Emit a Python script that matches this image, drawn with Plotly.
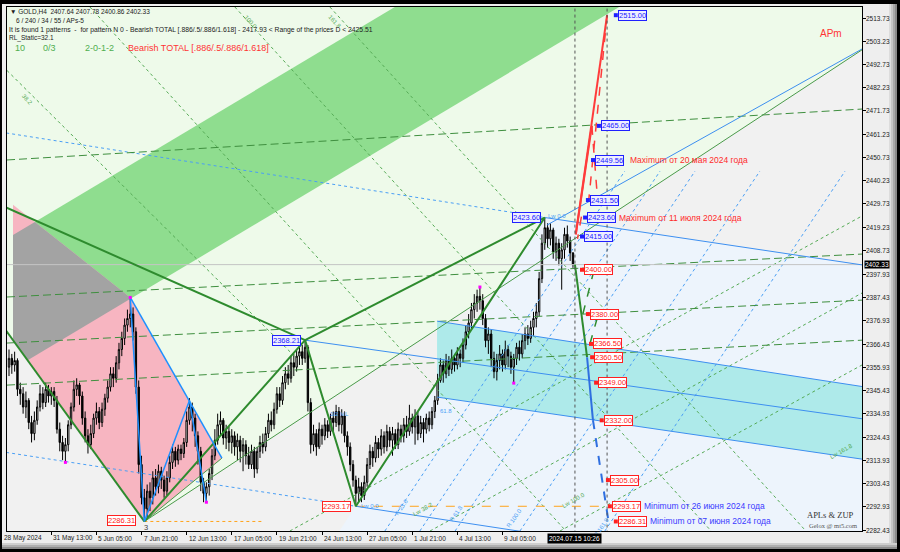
import plotly.graph_objects as go

# ---------------- candle data (H4 bars, index 0..200) ----------------
open0 = 2356.0
close = [
2360, 2357, 2359, 2346, 2344, 2338, 2341, 2331, 2326, 2332,
2338, 2344, 2340, 2346, 2343, 2345, 2341, 2328, 2322, 2318,
2321, 2330, 2338, 2346, 2348, 2343, 2333, 2325, 2321, 2326,
2333, 2336, 2331, 2337, 2342, 2347, 2353, 2351, 2358, 2364,
2369, 2375, 2378, 2380, 2372, 2347, 2312, 2297, 2292, 2300,
2297, 2306, 2302, 2309, 2305, 2300, 2306, 2313, 2318, 2314,
2319, 2317, 2322, 2332, 2338, 2333, 2325, 2318, 2304, 2299,
2302, 2308, 2316, 2323, 2330, 2332, 2324, 2327, 2322, 2325,
2320, 2323, 2318, 2321, 2316, 2312, 2318, 2310, 2318, 2322,
2320, 2326, 2332, 2330, 2337, 2344, 2341, 2349, 2353, 2351,
2358, 2356, 2361, 2363, 2360, 2365, 2340, 2321, 2326, 2320,
2328, 2325, 2330, 2327, 2333, 2331, 2336, 2330, 2334, 2325,
2320, 2312, 2305, 2299, 2302, 2298, 2304, 2312, 2318, 2315,
2322, 2319, 2325, 2320, 2327, 2323, 2326, 2321, 2328, 2325,
2330, 2327, 2333, 2329, 2334, 2326, 2331, 2328, 2333, 2330,
2336, 2341, 2350, 2357, 2353, 2359, 2355, 2360, 2357, 2362,
2360, 2366, 2372, 2376, 2382, 2385, 2388, 2386, 2378, 2368,
2371, 2360, 2354, 2359, 2362, 2357, 2364, 2361, 2356, 2360,
2365, 2362, 2368, 2371, 2369, 2374, 2378, 2381, 2396, 2412,
2419, 2414, 2418, 2408, 2412, 2405, 2409, 2416, 2413, 2407.64,
2402.33]
high = [
2364, 2362, 2363, 2360, 2349, 2347, 2345, 2342, 2334, 2336,
2341, 2348, 2347, 2349, 2348, 2347, 2347, 2343, 2331, 2325,
2324, 2332, 2340, 2350, 2351, 2349, 2345, 2336, 2328, 2330,
2335, 2340, 2338, 2340, 2344, 2350, 2356, 2356, 2361, 2367,
2372, 2378, 2382, 2387.5, 2383, 2374, 2350, 2316, 2301, 2303,
2304, 2309, 2310, 2312, 2311, 2307, 2309, 2316, 2321, 2320,
2321, 2321, 2324, 2336, 2342, 2340, 2335, 2327, 2320, 2306,
2304, 2310, 2319, 2328, 2335, 2336, 2333, 2330, 2329, 2328,
2327, 2326, 2325, 2324, 2323, 2320, 2321, 2320, 2320, 2325,
2326, 2329, 2335, 2336, 2340, 2347, 2347, 2352, 2356, 2357,
2361, 2362, 2364, 2366, 2366, 2368.21, 2366, 2342, 2330, 2328,
2331, 2330, 2333, 2332, 2335, 2336, 2339, 2338, 2337, 2336,
2327, 2322, 2314, 2307, 2306, 2304, 2307, 2315, 2321, 2320,
2325, 2324, 2328, 2327, 2330, 2329, 2329, 2328, 2331, 2330,
2333, 2334, 2339, 2335, 2337, 2336, 2334, 2333, 2335, 2336,
2338, 2343, 2353, 2360, 2359, 2362, 2361, 2364, 2362, 2365,
2364, 2369, 2375, 2380, 2385, 2389, 2391, 2392.2, 2389, 2380,
2374, 2373, 2363, 2362, 2366, 2364, 2368, 2366, 2363, 2362,
2367, 2368, 2371, 2374, 2375, 2377, 2381, 2385, 2399, 2416,
2423.6, 2421, 2421, 2419, 2415, 2414, 2412, 2419, 2420, 2415,
2407.78]
low = [
2352, 2353, 2354, 2343, 2339, 2335, 2333, 2328, 2322, 2323,
2330, 2336, 2337, 2338, 2340, 2339, 2338, 2326, 2318, 2314,
2313, 2318, 2328, 2336, 2343, 2339, 2330, 2322, 2317, 2319,
2324, 2330, 2328, 2329, 2334, 2340, 2345, 2347, 2349, 2355,
2361, 2366, 2372, 2374, 2368, 2344, 2308, 2294, 2286.31, 2288,
2291, 2294, 2298, 2299, 2301, 2297, 2298, 2304, 2310, 2311,
2312, 2314, 2315, 2320, 2330, 2327, 2320, 2312, 2300, 2295,
2295, 2298, 2305, 2314, 2321, 2325, 2321, 2319, 2318, 2317,
2316, 2314, 2313, 2309, 2312, 2310, 2310, 2306, 2308, 2315,
2317, 2318, 2324, 2327, 2328, 2335, 2338, 2339, 2346, 2348,
2349, 2352, 2354, 2357, 2357, 2358, 2336, 2317, 2318, 2316,
2319, 2321, 2323, 2324, 2325, 2327, 2329, 2327, 2326, 2322,
2316, 2309, 2302, 2293.17, 2295, 2295, 2296, 2302, 2310, 2311,
2313, 2315, 2316, 2317, 2318, 2320, 2316, 2319, 2319, 2322,
2322, 2324, 2325, 2326, 2321, 2323, 2324, 2322, 2326, 2327,
2328, 2333, 2339, 2349, 2349, 2351, 2352, 2353, 2354, 2355,
2356, 2358, 2364, 2369, 2373, 2378, 2381, 2382, 2375, 2365,
2362, 2356, 2351, 2350, 2355, 2354, 2355, 2356, 2353, 2348.8,
2357, 2359, 2360, 2364, 2366, 2367, 2370, 2374, 2379, 2394,
2409, 2410, 2411, 2405, 2404, 2402, 2391, 2405, 2410, 2404,
2400.86]

n = min(len(close), len(high), len(low))
close, high, low = close[:n], high[:n], low[:n]
opens = [open0] + close[:-1]
opens[-1] = 2407.64
high = [max(h, o, c) for h, o, c in zip(high, opens, close)]
low = [min(l, o, c) for l, o, c in zip(low, opens, close)]
bars = list(range(n))

# axis labels
xtick_bars = [15, 31, 47, 63, 79, 95, 111, 127, 143, 159, 175]
xtick_labels = ["31 May 13:00", "5 Jun 05:00", "7 Jun 21:00", "12 Jun 13:00", "17 Jun 05:00",
                "19 Jun 21:00", "24 Jun 13:00", "27 Jun 05:00", "1 Jul 21:00", "4 Jul 13:00", "9 Jul 05:00"]
ytick_vals = [2513.73, 2503.23, 2492.73, 2482.23, 2471.73, 2461.23, 2450.73, 2440.23, 2429.73,
              2419.23, 2408.73, 2397.93, 2387.43, 2376.93, 2366.43, 2355.93, 2345.43, 2334.93,
              2324.43, 2313.93, 2303.43, 2292.93, 2282.43]
last_price = 2402.33
now_bar = 200.7
proj_bar = 212.1
XR = [-0.71, 302.5]
YR = [2282.0, 2518.7]

# pattern pivots (bar, price)
piv_bar = [48, 105, 123, 190]
piv_price = [2286.31, 2368.21, 2293.17, 2423.60]

# regions (bar, price vertices)
wedge_b = [-12, 48, 312, 312, -12]
wedge_p = [2391.8, 2286.31, 2507.3, 2540, 2540]
pblue_b = [111, 190, 312, 312]
pblue_p = [2270, 2423.6, 2400.4, 2270]
band_b = [1.42, 146.95, 226.5, 6.52, 1.42]
band_p = [2415.7, 2526.4, 2526.4, 2359.1, 2368.3]
pink_b = [1.42, 43, 75.5, 48, 1.42]
pink_p = [2429.4, 2387.5, 2314.9, 2286.31, 2368.3]
cyan_b = [151.8, 312, 312, 151.8]
cyan_p = [2376.8, 2345.4, 2312.7, 2342.5]

# price level labels on the projection
up_levels = [2515.00, 2465.00, 2449.56, 2431.50, 2423.60, 2415.00]
up_bars = [215.2, 209.2, 207.1, 205.3, 204.3, 203.2]
dn_levels = [2400.00, 2380.00, 2366.50, 2360.50, 2349.00, 2332.00, 2305.00, 2293.17, 2286.31]
dn_bars = [203.2, 205.3, 206.4, 206.8, 208.2, 210.2, 212.4, 213.1, 215.2]

FONT = "Liberation Sans"
fig = go.Figure()


def clip(subject, clipper):
    def area(p):
        return sum(p[i][0] * p[(i + 1) % len(p)][1] - p[(i + 1) % len(p)][0] * p[i][1] for i in range(len(p)))
    s = 1 if area(clipper) > 0 else -1

    def inside(p, a, b):
        return s * ((b[0] - a[0]) * (p[1] - a[1]) - (b[1] - a[1]) * (p[0] - a[0])) >= 0

    def inter(p, q, a, b):
        x1, y1 = p; x2, y2 = q; x3, y3 = a; x4, y4 = b
        d = (x1 - x2) * (y3 - y4) - (y1 - y2) * (x3 - x4)
        t = ((x1 - x3) * (y3 - y4) - (y1 - y3) * (x3 - x4)) / d
        return (x1 + t * (x2 - x1), y1 + t * (y2 - y1))
    out = subject
    for i in range(len(clipper)):
        if not out:
            break
        a, b = clipper[i], clipper[(i + 1) % len(clipper)]
        inp, out = out, []
        for j in range(len(inp)):
            p, q = inp[j], inp[(j + 1) % len(inp)]
            if inside(q, a, b):
                if not inside(p, a, b):
                    out.append(inter(p, q, a, b))
                out.append(q)
            elif inside(p, a, b):
                out.append(inter(p, q, a, b))
    return out


VIEW = [(XR[0], YR[0]), (XR[1], YR[0]), (XR[1], YR[1]), (XR[0], YR[1])]


def region(pts, color):
    pts = clip(pts, VIEW)
    if len(pts) < 3:
        return
    path = "M " + " L ".join(f"{x},{y}" for x, y in pts) + " Z"
    fig.add_shape(type="path", path=path, xref="x", yref="y", fillcolor=color,
                  line=dict(width=0), layer="below")


def line(bx, py, color, width=1, dash="solid"):
    fig.add_trace(go.Scatter(x=bx, y=py, mode="lines", line=dict(color=color, width=width, dash=dash),
                             hoverinfo="skip", showlegend=False))


# ---- background regions (below candles) ----
region(list(zip(wedge_b, wedge_p)), "#eefaea")
region(list(zip(pblue_b, pblue_p)), "#edf4fc")
band = list(zip(band_b, band_p))
pink = list(zip(pink_b, pink_p))
region(band, "#8fdd8f")
region(pink, "#f7b5c1")
region(clip(pink, band), "#a3a3a3")
region(list(zip(cyan_b, cyan_p)), "#aeeaea")

# ---- candles ----
fig.add_trace(go.Candlestick(x=bars, open=opens, high=high, low=low, close=close,
                             increasing=dict(line=dict(color="#000000", width=1), fillcolor="#ffffff"),
                             decreasing=dict(line=dict(color="#000000", width=1), fillcolor="#000000"),
                             whiskerwidth=0, hoverinfo="skip", showlegend=False))

# ---- dotted fan lines ----
GD = "#55aa55"
BD = "#4a9ff5"
for bx, py in [([99.6, 302.5], [2282.0, 2424.3]), ([149.3, 302.5], [2282.0, 2389.5]),
               ([195.4, 302.5], [2282.0, 2357.0]), ([80.1, 249], [2518.7, 2282.0]),
               ([28.7, 197.5], [2518.7, 2282.0]), ([113.8, 282.6], [2518.7, 2282.0]),
               ([-0.7, 102], [2490.0, 2360.0])]:
    line(bx, py, GD, 1, "dot")
for bx, py in [([133.3, 218.4], [2282.0, 2444.6]), ([145.7, 230.9], [2282.0, 2444.6]),
               ([158.2, 243.3], [2282.0, 2444.6]), ([181.2, 266.3], [2282.0, 2444.6]),
               ([211.3, 296.5], [2282.0, 2444.6])]:
    line(bx, py, BD, 1, "dot")
line([-1, 190], [2461.8, 2423.6], BD, 1, "dot")
line([-1, 123], [2317.5, 2293.17], BD, 1, "dot")

# long dashed green levels
for py in [[2449.6, 2472.6], [2387.7, 2407.1], [2366.9, 2386.3], [2347.9, 2368.2]]:
    line([-0.7, 302.5], py, "#3f8f3f", 1, "8px,4px")

# current price line
line([-1, 303], [last_price, last_price], "#c4c4c4", 1)
# orange dotted lows
line([123, 210], [2293.17, 2293.17], "#ffa31a", 1, "dash")
line([48, 90], [2286.31, 2286.31], "#ffa31a", 1, "dot")

# ---- pitchfork / channel lines ----
BL = "#3d8ff0"
line([105, 312], [2368.21, 2331.0], BL, 1)
line([151.8, 312], [2376.8, 2345.4], BL, 1)
line([151.8, 312], [2342.5, 2312.7], BL, 1)
line([123, 312], [2293.17, 2256.5], BL, 1)
line([190, 312], [2423.6, 2400.4], BL, 1)
line([190.8, 312], [2420.2, 2506.5], BL, 1)
line([48, 312], [2286.31, 2507.3], "#4a9a4a", 1)
line([48, 75.5], [2286.31, 2314.9], "#4a9a4a", 1)

# green zigzag
GZ = "#2e8b2e"
line(piv_bar, piv_price, GZ, 2)
line([105, 190], [2368.21, 2423.6], GZ, 2)
line([-1, 105], [2428.1, 2368.21], GZ, 2)
line([48, -2], [2286.31, 2374.2], GZ, 2)

# blue zigzag (older pattern)
line([43, 48, 64, 70], [2387.5, 2286.31, 2341, 2295], "#1e90ff", 1.5)
line([43, 75.5], [2387.5, 2314.9], "#1e90ff", 1.5)

# projections from current bar
line([now_bar, 205.0], [last_price, 2360.5], GZ, 2)
line([205.0, 207.1], [2360.5, 2332.0], "#2f6fe0", 2)
line([207.1, 212.6], [2332.0, 2286.31], "#2f6fe0", 2, "dash")
line([203.5, 207.5], [2380.0, 2400.0], GZ, 1.5, "dash")
line([206.0, 209.0], [2366.5, 2380.0], GZ, 1.5, "dash")
RD = "#ff3b3b"
line([201.0, proj_bar], [2416.0, 2515.0], RD, 2)
line([201.0, 206.7], [2416.0, 2465.0], RD, 2)
line([206.7, 208.6], [2465.0, 2433.8], RD, 1.5, "dash")
line([proj_bar, 205.6], [2515.0, 2431.5], RD, 1.5, "dash")
line([203.0, 201.6], [2424.0, 2414.0], RD, 1.5, "dash")

# vertical dotted lines
line([now_bar, now_bar], [2270, 2530], "#555555", 1, "dot")
line([proj_bar, proj_bar], [2270, 2530], "#555555", 1, "dot")

# magenta swing markers
fig.add_trace(go.Scatter(x=[43, 20, 70, 167, 179], y=[2387.5, 2313, 2295, 2392.2, 2348.8], mode="markers",
                         marker=dict(color="#ff00ff", size=3, symbol="square"), hoverinfo="skip",
                         showlegend=False))

# price label markers
fig.add_trace(go.Scatter(x=up_bars, y=up_levels, mode="markers",
                         marker=dict(color="#2020ff", size=4, symbol="square"), hoverinfo="skip",
                         showlegend=False))
fig.add_trace(go.Scatter(x=dn_bars, y=dn_levels, mode="markers",
                         marker=dict(color="#ff2020", size=4, symbol="square"), hoverinfo="skip",
                         showlegend=False))


def box(bx, py, text, color, bg, size=7.5):
    fig.add_annotation(x=bx, y=py, xref="x", yref="y", text=text, showarrow=False, xanchor="left",
                       yanchor="middle", xshift=2, font=dict(family=FONT, size=size, color=color),
                       bgcolor=bg, bordercolor=color, borderwidth=1, borderpad=0)


for b, p in zip(up_bars, up_levels):
    box(b, p, f"{p:.2f}", "#2020ff", "#eeeeff")
for b, p in zip(dn_bars, dn_levels):
    box(b, p, f"{p:.2f}", "#ff2020", "#ffffff")

box(177.7, 2423.6, "2423.60", "#2020ff", "#eeeeff")
box(92.4, 2368.21, "2368.21", "#2020ff", "#eeeeff")
box(110.3, 2292.9, "2293.17", "#ff2020", "#ffffff")
box(34.2, 2286.6, "2286.31", "#ff2020", "#ffffff")


def note(bx, py, text, color, size=8.5, angle=0):
    fig.add_annotation(x=bx, y=py, xref="x", yref="y", text=text, showarrow=False, xanchor="left",
                       yanchor="middle", textangle=angle, font=dict(family=FONT, size=size, color=color))


note(219.5, 2449.56, "Maximum от 20 мая 2024 года", "#ff2a2a")
note(215.5, 2423.60, "Maximum от 11 июля 2024 года", "#ff2a2a")
note(224.5, 2293.17, "Minimum от 26 июня 2024 года", "#3a3aff")
note(226.5, 2286.31, "Minimum от 07 июня 2024 года", "#3a3aff")
note(47.3, 2283.6, "3", "#444444", 7.5)

# small fan labels
note(82, 2512, "100.0", "#55aa55", 6, 48)
note(112, 2512, "161.8", "#55aa55", 6, 48)
note(3, 2477, "38.2", "#55aa55", 6, 48)
note(135.5, 2293, "R 23.6", "#4a9ff5", 6, -55)
note(142, 2292, "Lw 38.2", "#55aa55", 6, -30)
note(155, 2290, "R 61.8", "#4a9ff5", 6, -55)
note(175, 2288, "R 100.0", "#4a9ff5", 6, -55)
note(195, 2296, "Lw 100.0", "#55aa55", 6, -30)
note(206, 2284, "R 161.8", "#4a9ff5", 6, -55)
note(190.5, 2424.5, "Lw 0.0", "#4a9ff5", 6)
note(124, 2293.5, "Lw 0.0", "#4a9ff5", 6)
note(113, 2335, "1/2 ML", "#4a9ff5", 6)
note(152, 2336, "61.8", "#4a9ff5", 6)
note(290, 2318, "Lw 161.8", "#55aa55", 6, -30)


def ptext(px, py, text, color, size=6.5, family=FONT, anchor="left"):
    fig.add_annotation(x=(px - 7) / 855, y=1 - (py - 7) / 524, xref="paper", yref="paper", text=text,
                       showarrow=False, xanchor=anchor, yanchor="middle",
                       font=dict(family=family, size=size, color=color))


ptext(8, 12, "▼ GOLD,H4  2407.64 2407.78 2400.86 2402.33", "#222222")
ptext(14, 21, "6 / 240 / 34 / 55 / APs-5", "#222222")
ptext(7, 30, "It is found 1 patterns  -  for pattern N 0 - Bearish TOTAL [.886/.5/.886/1.618] - 2417.93 < Range of the prices D < 2425.51", "#222222", 6.8)
ptext(7, 38, "RL_Static=32.1", "#222222")
ptext(13, 48, "10", "#4fae4f", 9)
ptext(41, 48, "0/3", "#4fae4f", 9)
ptext(83, 48, "2-0-1-2", "#4fae4f", 9)
ptext(126, 48, "Bearish TOTAL [.886/.5/.886/1.618]", "#ff3333", 9)
ptext(818, 33, "APm", "#ff3333", 10)
ptext(805, 515, "APLs & ZUP", "#333333", 8.5, "Liberation Serif")
ptext(807, 525, "Gelox @ mt5.com", "#555555", 6.5, "Liberation Serif")

# x-axis labels (left aligned after tick)
fig.add_annotation(x=-0.7, y=-0.0134, xref="x", yref="paper", text="28 May 2024", showarrow=False,
                   xanchor="left", yanchor="middle", xshift=-5,
                   font=dict(family=FONT, size=6.5, color="#222222"))
for b, t in zip(xtick_bars, xtick_labels):
    fig.add_annotation(x=b, y=-0.0134, xref="x", yref="paper", text=t, showarrow=False,
                       xanchor="left", yanchor="middle", xshift=0,
                       font=dict(family=FONT, size=6.5, color="#222222"))
fig.add_annotation(x=now_bar, y=-0.0134, xref="x", yref="paper", text="2024.07.15 10:26", showarrow=False,
                   xanchor="center", yanchor="middle", bgcolor="#000000", borderpad=1,
                   font=dict(family=FONT, size=6.5, color="#ffffff"))
# y-axis labels
for v in ytick_vals:
    fig.add_annotation(x=1.0, y=v, xref="paper", yref="y", text=f"{v:.2f}", showarrow=False,
                       xanchor="left", yanchor="middle", xshift=2,
                       font=dict(family=FONT, size=6.5, color="#222222"))
# current price tag on the right axis
fig.add_annotation(x=1.0, y=last_price, xref="paper", yref="y", text=f"{last_price:.2f}", showarrow=False,
                   xanchor="left", yanchor="middle", xshift=2, bgcolor="#000000", borderpad=0,
                   font=dict(family=FONT, size=6.5, color="#ffffff"))


# ---- frame (bevel) ----
def prect(x0, y0, x1, y1, color):
    fig.add_shape(type="rect", xref="paper", yref="paper", x0=(x0 - 7) / 855, x1=(x1 - 7) / 855,
                  y0=1 - (y0 - 7) / 524, y1=1 - (y1 - 7) / 524, fillcolor=color, line=dict(width=0),
                  layer="below")


for i, c in enumerate(["#dcdcdc", "#c4c4c4", "#a8a8a8", "#8a8a8a"]):
    prect(889 + 2 * i, 0, 891 + 2 * i, 552, c)
for i, c in enumerate(["#cfcfcf", "#b0b0b0", "#8c8c8c"]):
    prect(0, 543 + 2 * i, 900, 545 + 2 * i, c)
prect(0, 0, 900, 4, "#000000")
prect(0, 549, 900, 552, "#000000")
prect(0, 0, 2, 552, "#000000")
prect(897, 0, 900, 552, "#000000")

fig.update_layout(
    width=900, height=552, margin=dict(l=7, r=38, t=7, b=21, autoexpand=False),
    paper_bgcolor="#eeeeee", plot_bgcolor="#f1f1f1", showlegend=False,
    xaxis=dict(range=XR, showgrid=False, zeroline=False, showline=True, linecolor="#000000",
               linewidth=1, mirror=True, ticks="outside", ticklen=3, tickcolor="#000000",
               tickvals=xtick_bars, showticklabels=False, rangeslider=dict(visible=False),
               fixedrange=True, automargin=False),
    yaxis=dict(range=YR, side="right", showgrid=False, zeroline=False, showline=True,
               linecolor="#000000", linewidth=1, mirror=True, ticks="outside", ticklen=3,
               tickcolor="#000000", tickvals=ytick_vals, showticklabels=False,
               fixedrange=True, automargin=False),
)

fig.write_html("out.html", config={"displayModeBar": False},
               post_script="document.body.style.margin='0';document.body.style.overflow='hidden';")
